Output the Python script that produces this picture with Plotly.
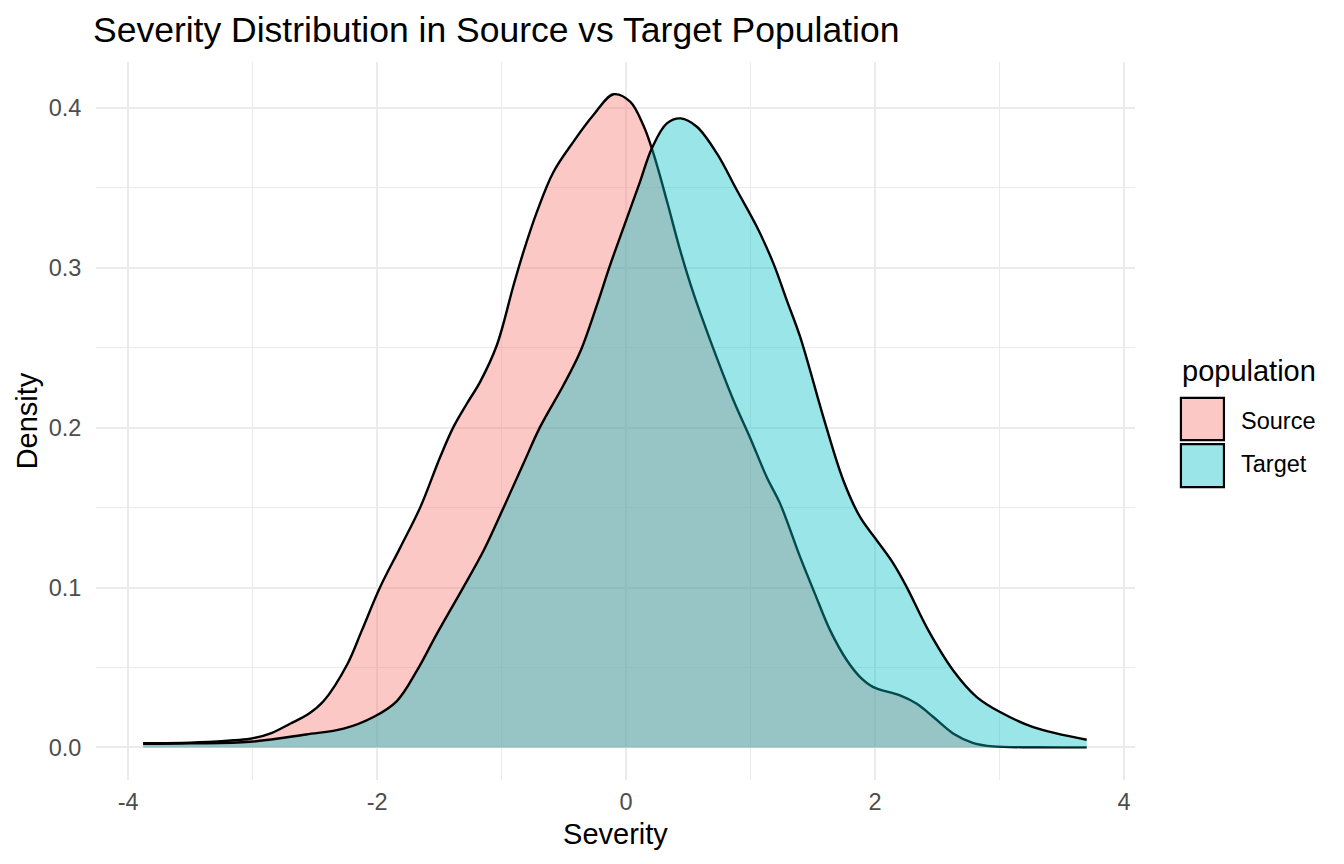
#!/usr/bin/env python3
# Density of severity, source vs target population (ggplot-like look)
import plotly.graph_objects as go

# Source population density curve
source_x = [-3.88, -3.5, -3.2, -3.02, -2.85, -2.70, -2.55, -2.43, -2.24, -2.123,
            -1.976, -1.815, -1.655, -1.494, -1.387, -1.28, -1.173, -1.039, -0.905, -0.825,
            -0.717, -0.584, -0.423, -0.263, -0.102, 0.032, 0.139, 0.219, 0.327, 0.434,
            0.541, 0.675, 0.862, 1.0, 1.13, 1.237, 1.398, 1.512, 1.639, 1.773,
            1.88, 1.986, 2.2, 2.335, 2.468, 2.63, 2.79, 2.95, 3.3, 3.70]
source_y = [0.0027, 0.003, 0.0042, 0.0054, 0.009, 0.0148, 0.021, 0.029, 0.052, 0.0732,
            0.1003, 0.125, 0.150, 0.1817, 0.2005, 0.215, 0.2287, 0.2516, 0.289, 0.310,
            0.335, 0.360, 0.379, 0.3956, 0.4086, 0.404, 0.389, 0.3716, 0.342, 0.311,
            0.284, 0.2548, 0.2172, 0.193, 0.169, 0.1525, 0.119, 0.097, 0.0732, 0.0545,
            0.044, 0.0377, 0.0325, 0.0273, 0.019, 0.0086, 0.0027, 0.0006, 0.0001, 0.0]

# Target population density curve
target_x = [-3.88, -3.5, -3.02, -2.57, -2.27, -2.03, -1.842, -1.681, -1.521, -1.307,
            -1.146, -0.985, -0.825, -0.691, -0.504, -0.369, -0.235, -0.129, 0.0056, 0.112,
            0.206, 0.327, 0.439, 0.568, 0.729, 0.889, 1.05, 1.183, 1.29, 1.398,
            1.598, 1.745, 1.88, 2.013, 2.147, 2.254, 2.428, 2.629, 2.817,
            3.004, 3.27, 3.70]
target_y = [0.0022, 0.0025, 0.0035, 0.0081, 0.0117, 0.019, 0.029, 0.048, 0.071, 0.1003,
            0.123, 0.150, 0.1776, 0.2005, 0.2266, 0.2475, 0.2767, 0.3017, 0.331, 0.354,
            0.3747, 0.3904, 0.3935, 0.3883, 0.3716, 0.3487, 0.3257, 0.3028, 0.2798, 0.2568,
            0.203, 0.167, 0.144, 0.1296, 0.115, 0.1003, 0.0732, 0.048, 0.0315,
            0.0221, 0.0127, 0.0048]

groups = ["Source", "Target"]
fills = ["rgba(248,118,109,0.4)", "rgba(0,191,196,0.4)"]

FONT = "Liberation Sans, Arial, Helvetica, sans-serif"
GRID = "#EBEBEB"

fig = go.Figure()
for name, xs, ys, fc in zip(groups, [source_x, target_x], [source_y, target_y], fills):
    fig.add_trace(go.Scatter(
        x=xs, y=ys, name=name, mode="lines",
        line=dict(color="black", width=2.4, shape="spline", smoothing=1.0),
        fill="tozeroy", fillcolor=fc, showlegend=False
    ))

# hand-made legend, ggplot style (keys are squares with black border)
shapes = []
annotations = [dict(text="population", x=1.0433, y=0.5698, xref="paper", yref="paper",
                    xanchor="left", yanchor="middle", showarrow=False,
                    font=dict(size=29, color="black", family=FONT))]
key_y = [(0.4735, 0.5321), (0.4078, 0.4679)]
lab_y = [0.5, 0.44]
for name, fc, (y0, y1), ly in zip(groups, fills, key_y, lab_y):
    shapes.append(dict(type="rect", xref="paper", yref="paper",
                       x0=1.0442, x1=1.0856, y0=y0, y1=y1,
                       fillcolor=fc, line=dict(color="black", width=2.2)))
    annotations.append(dict(text=name, x=1.1, y=ly, xref="paper", yref="paper",
                            xanchor="left", yanchor="middle", showarrow=False,
                            font=dict(size=23.5, color="black", family=FONT)))

fig.update_layout(
    width=1344, height=864,
    paper_bgcolor="white", plot_bgcolor="white",
    margin=dict(l=95.6, r=209, t=62, b=84.4),
    font=dict(family=FONT, color="#4D4D4D"),
    title=dict(text="Severity Distribution in Source vs Target Population",
               x=93 / 1344, xref="container", xanchor="left",
               y=1 - 30 / 864, yref="container", yanchor="middle",
               font=dict(size=35.5, color="black", family=FONT)),
    shapes=shapes, annotations=annotations,
    showlegend=False,
)
fig.update_xaxes(
    range=[-4.259, 4.088], tickvals=[-4, -2, 0, 2, 4], ticktext=["-4", "-2", "0", "2", "4"],
    showgrid=True, gridcolor=GRID, gridwidth=2, zeroline=False, showline=False,
    ticks="outside", ticklen=1, tickcolor="rgba(0,0,0,0)", automargin=False,
    tickfont=dict(size=23.5, color="#4D4D4D"),
    minor=dict(dtick=1, tick0=-4, showgrid=True, gridcolor=GRID, gridwidth=1),
    title=dict(text="Severity", standoff=9, font=dict(size=29, color="black")),
)
fig.update_yaxes(
    range=[-0.0204, 0.4288], tickvals=[0, 0.1, 0.2, 0.3, 0.4],
    ticktext=["0.0", "0.1", "0.2", "0.3", "0.4"],
    showgrid=True, gridcolor=GRID, gridwidth=2, zeroline=False, showline=False,
    ticks="outside", ticklen=9, tickcolor="rgba(0,0,0,0)", automargin=False,
    tickfont=dict(size=23.5, color="#4D4D4D"),
    minor=dict(dtick=0.05, tick0=0, showgrid=True, gridcolor=GRID, gridwidth=1),
    title=dict(text="Density", standoff=2, font=dict(size=29, color="black")),
)

fig.write_html("out.html", config={"displayModeBar": False},
               post_script="document.body.style.margin='0';")
